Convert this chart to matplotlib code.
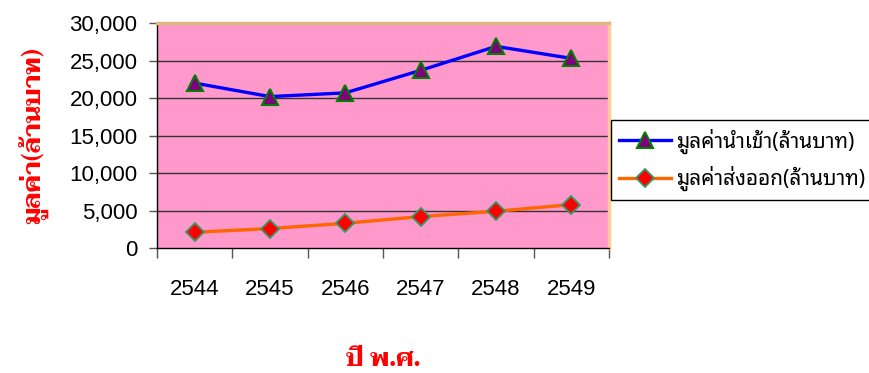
import matplotlib
matplotlib.use("Agg")
import matplotlib.pyplot as plt
from matplotlib.ticker import FuncFormatter

# ปี พ.ศ. และมูลค่า (ล้านบาท) อ่านจากกราฟ
years = ["2544", "2545", "2546", "2547", "2548", "2549"]
import_vals = [22000, 20200, 20700, 23700, 26900, 25300]
export_vals = [2100, 2600, 3300, 4200, 4900, 5800]
yticks = [0, 5000, 10000, 15000, 20000, 25000, 30000]

thai_sans = ["Noto Sans Thai Looped", "Liberation Sans", "DejaVu Sans"]
thai_bold = ["Taviraj", "DejaVu Serif"]

plt.rcParams["font.family"] = ["Liberation Sans", "DejaVu Sans"]

fig = plt.figure(figsize=(8.7, 3.73), dpi=100)
ax = fig.add_axes([0.1805, 0.335, 0.5195, 0.603])
ax.set_facecolor("#FF99CC")

x = list(range(len(years)))
ax.plot(x, import_vals, color="#0000FF", lw=2.4, marker="^", ms=12,
        mfc="#800080", mec="#008000", mew=1.5, label="มูลค่านำเข้า(ล้านบาท)", zorder=3)
ax.plot(x, export_vals, color="#FF6600", lw=2.4, marker="D", ms=9,
        mfc="#FF0000", mec="#339966", mew=1.3, label="มูลค่าส่งออก(ล้านบาท)", zorder=3)

ax.set_xlim(-0.5, len(years) - 0.5)
ax.set_ylim(0, 30000)
ax.set_yticks(yticks)
ax.yaxis.set_major_formatter(FuncFormatter(lambda v, p: f"{int(v):,}"))
for v in yticks[1:-1]:
    ax.axhline(v, color="#333333", lw=1.0, zorder=1)

ax.set_xticks(x)
ax.set_xticklabels(years)
ax.set_xticks([i - 0.5 for i in range(len(years) + 1)], minor=True)
ax.tick_params(axis="x", which="major", length=0, pad=22, labelsize=16)
ax.tick_params(axis="x", which="minor", length=7, width=1, color="#555555")
ax.tick_params(axis="y", length=6, width=1, color="#555555", labelsize=16, pad=8)

for s in ["left", "bottom"]:
    ax.spines[s].set_color("black")
    ax.spines[s].set_linewidth(1.0)
ax.spines["top"].set_color("#E0B880")
ax.spines["top"].set_linewidth(2.5)
ax.spines["right"].set_color("#FFCC99")
ax.spines["right"].set_linewidth(2.5)

ax.set_ylabel("มูลค่า(ล้านบาท)", color="#FF0000", fontsize=18, fontweight="bold",
              family=thai_bold)
ax.yaxis.set_label_coords(-0.24, 0.5)
fig.text(0.44, 0.035, "ปี พ.ศ.", color="#FF0000", fontsize=18, fontweight="bold",
         family=thai_bold, ha="center", va="center")

leg = ax.legend(loc="upper left", bbox_to_anchor=(1.004, 0.569), frameon=True,
                fancybox=False, edgecolor="black", framealpha=1,
                prop={"family": thai_sans, "size": 15}, handlelength=2.5,
                handletextpad=0.25, borderpad=0.4, labelspacing=0.6,
                borderaxespad=0)
leg.get_frame().set_linewidth(1.0)

fig.savefig("out.png", dpi=100)
